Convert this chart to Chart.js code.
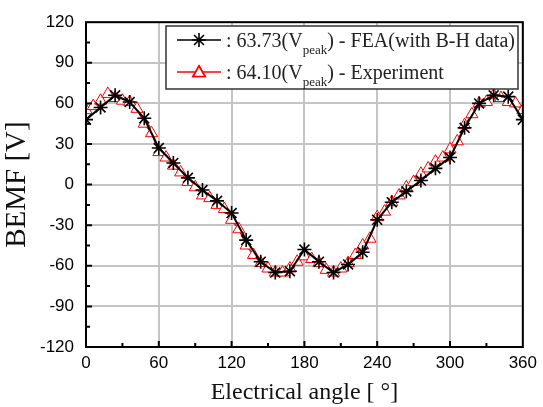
<!DOCTYPE html>
<html>
<head>
<meta charset="utf-8">
<script src="https://cdn.jsdelivr.net/npm/chart.js@4.4.1/dist/chart.umd.min.js"></script>
<style>
  html, body { margin: 0; padding: 0; background: #fff; }
  #wrap { width: 543px; height: 407px; }
</style>
</head>
<body>
<div id="wrap"><canvas id="bemfChart" width="543" height="407"></canvas></div>
<script>
// FEA result, every 12 degrees
const feaAngles = [0, 12, 24, 36, 48, 60, 72, 84, 96, 108, 120, 132, 144, 156, 168, 180,
  192, 204, 216, 228, 240, 252, 264, 276, 288, 300, 312, 324, 336, 348, 360];
const feaValues = [48, 57, 66, 61, 49, 27, 16, 5, -4, -12, -21, -41, -57, -65, -64, -48,
  -57, -65, -59, -50, -26, -13, -5, 3, 12, 20, 42, 60, 66, 65, 48];

// measured, every 6 degrees
const expAngles = [0, 6, 12, 18, 24, 30, 36, 42, 48, 54, 60, 66, 72, 78, 84, 90, 96, 102,
  108, 114, 120, 126, 132, 138, 144, 150, 156, 162, 168, 174, 180, 186, 192, 198, 204, 210,
  216, 222, 228, 234, 240, 246, 252, 258, 264, 270, 276, 282, 288, 294, 300, 306, 312, 318,
  324, 330, 336, 342, 348, 354, 360];
const expValues = [55, 58, 62, 67, 64, 62, 61, 56, 45, 38, 24, 20, 14, 9, 2, -2, -8, -10,
  -15, -18, -26, -33, -45, -52, -58, -62, -65, -65, -62, -57, -53, -55, -58, -63, -65, -62,
  -58, -52, -45, -40, -24, -20, -13, -8, -2, 2, 8, 12, 17, 20, 26, 32, 44, 52,
  60, 61, 66, 64, 61, 60, 55];

const xTicks = [0, 60, 120, 180, 240, 300, 360];
const yTicks = [-120, -90, -60, -30, 0, 30, 60, 90, 120];

const legendRows = [
  { value: '63.73', label: ') - FEA(with B-H data)', color: '#000', style: 'star' },
  { value: '64.10', label: ') - Experiment', color: '#ff0000', style: 'triangle' }
];

function pairs(xs, ys) {
  return xs.map((x, i) => ({ x: x, y: ys[i] }));
}

// box, inner ticks and the legend with subscripts
const framePlugin = {
  id: 'frame',
  afterDraw(chart) {
    const ctx = chart.ctx;
    const a = chart.chartArea;
    const xs = chart.scales.x, ys = chart.scales.y;
    ctx.save();
    ctx.strokeStyle = '#000';
    ctx.lineWidth = 2;
    ctx.beginPath();
    for (let v = 30; v < 360; v += 30) {
      const px = xs.getPixelForValue(v);
      const len = v % 60 === 0 ? 6 : 4;
      ctx.moveTo(px, a.bottom);
      ctx.lineTo(px, a.bottom - len);
    }
    for (let v = -105; v < 120; v += 15) {
      const py = ys.getPixelForValue(v);
      const len = v % 30 === 0 ? 6 : 4;
      ctx.moveTo(a.left, py);
      ctx.lineTo(a.left + len, py);
    }
    ctx.stroke();
    ctx.strokeRect(a.left, a.top, a.right - a.left, a.bottom - a.top);

    // legend
    const bx = 166, by = 26, bw = 352, bh = 63;
    ctx.fillStyle = '#fff';
    ctx.fillRect(bx, by, bw, bh);
    ctx.lineWidth = 1.5;
    ctx.strokeStyle = '#333';
    ctx.strokeRect(bx, by, bw, bh);
    legendRows.forEach((r, i) => {
      const y = 40 + i * 32;
      ctx.strokeStyle = r.color;
      ctx.lineWidth = 1.6;
      ctx.beginPath();
      ctx.moveTo(177, y);
      ctx.lineTo(221, y);
      ctx.stroke();
      Chart.helpers.drawPoint(ctx, {
        pointStyle: r.style, radius: 7, rotation: 0, borderWidth: 1.2
      }, 199, y + (r.style === 'triangle' ? 1 : 0));
      if (r.style === 'triangle') {
        ctx.fillStyle = '#fff';
        ctx.fill();
        ctx.stroke();
      }
      ctx.fillStyle = '#222';
      ctx.textBaseline = 'alphabetic';
      ctx.font = '20px "Liberation Serif"';
      let tx = 226;
      const base = y + 7;
      const s1 = ': ' + r.value + '(V';
      ctx.fillText(s1, tx, base);
      tx += ctx.measureText(s1).width;
      ctx.font = '13px "Liberation Serif"';
      ctx.fillText('peak', tx, base + 7);
      tx += ctx.measureText('peak').width;
      ctx.font = '20px "Liberation Serif"';
      ctx.fillText(r.label, tx, base);
    });
    ctx.restore();
  }
};

const ctx = document.getElementById('bemfChart').getContext('2d');
const chart = new Chart(ctx, {
  type: 'line',
  data: {
    datasets: [
      {
        label: 'FEA(with B-H data)',
        data: pairs(feaAngles, feaValues),
        borderColor: '#000',
        borderWidth: 2,
        pointStyle: 'star',
        pointRadius: 7,
        pointBorderWidth: 1.6,
        pointBorderColor: '#000',
        tension: 0,
        order: 0
      },
      {
        label: 'Experiment',
        data: pairs(expAngles, expValues),
        borderColor: '#ff0000',
        borderWidth: 1.3,
        pointStyle: 'triangle',
        pointRadius: 7,
        pointBorderWidth: 1,
        pointBorderColor: '#ff0000',
        pointBackgroundColor: '#fff',
        tension: 0,
        order: 1
      }
    ]
  },
  options: {
    responsive: false,
    animation: false,
    layout: { padding: { top: 22, right: 15, left: 0, bottom: 0 } },
    plugins: { legend: { display: false }, tooltip: { enabled: false } },
    scales: {
      x: {
        type: 'linear',
        min: 0,
        max: 360,
        afterBuildTicks: (s) => { s.ticks = xTicks.map(v => ({ value: v })); },
        afterFit: (s) => { s.height = 60; },
        grid: { color: '#c4c4c4', lineWidth: 2, drawTicks: false },
        border: { display: false },
        ticks: {
          padding: 6,
          maxRotation: 0,
          color: '#000',
          font: { family: '"Liberation Sans"', size: 17 }
        },
        title: {
          display: true,
          text: 'Electrical angle [ °]',
          color: '#111',
          padding: { top: 2, bottom: 0 },
          font: { family: '"Liberation Serif"', size: 24 }
        }
      },
      y: {
        min: -120,
        max: 120,
        afterBuildTicks: (s) => { s.ticks = yTicks.map(v => ({ value: v })); },
        afterFit: (s) => { s.width = 86; },
        grid: { color: '#c4c4c4', lineWidth: 2, drawTicks: false },
        border: { display: false },
        ticks: {
          padding: 12,
          color: '#000',
          font: { family: '"Liberation Sans"', size: 17 }
        },
        title: {
          display: true,
          text: 'BEMF [V]',
          color: '#111',
          padding: { top: 0, bottom: 0 },
          font: { family: '"Liberation Serif"', size: 29 }
        }
      }
    }
  },
  plugins: [framePlugin]
});
</script>
</body>
</html>
